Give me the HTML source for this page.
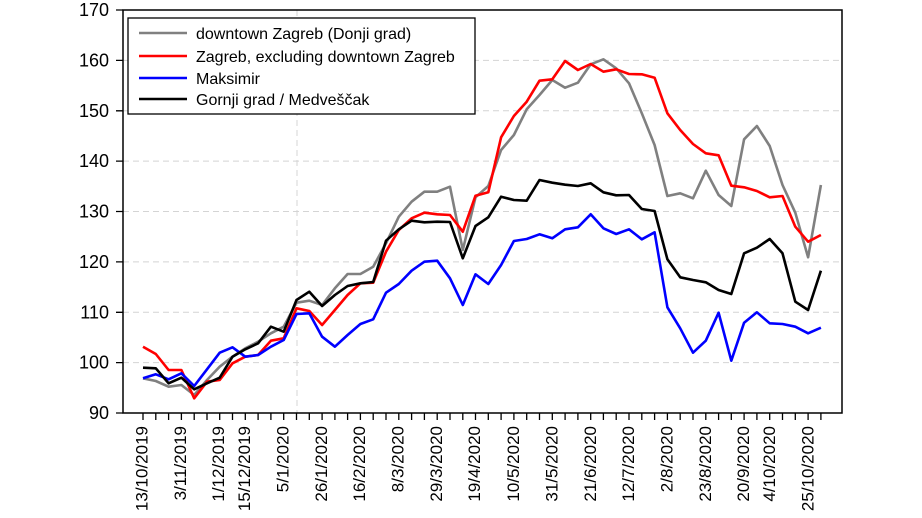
<!DOCTYPE html>
<html><head><meta charset="utf-8"><style>
html,body{margin:0;padding:0;background:#fff;}
svg{display:block;font-family:"Liberation Sans",Arial,sans-serif;}
</style></head><body>
<svg width="922" height="518" viewBox="0 0 922 518" xmlns="http://www.w3.org/2000/svg">
<g stroke="#d4d4d4" stroke-width="1" stroke-dasharray="6,4">
<line x1="123" y1="60.4" x2="842" y2="60.4"/>
<line x1="123" y1="110.8" x2="842" y2="110.8"/>
<line x1="123" y1="161.1" x2="842" y2="161.1"/>
<line x1="123" y1="211.5" x2="842" y2="211.5"/>
<line x1="123" y1="261.9" x2="842" y2="261.9"/>
<line x1="123" y1="312.3" x2="842" y2="312.3"/>
<line x1="123" y1="362.6" x2="842" y2="362.6"/>
<line x1="297" y1="10" x2="297" y2="413"/>
</g>
<g font-size="18" text-anchor="end" fill="#000">
<text x="109" y="16">170</text><text x="109" y="66.4">160</text><text x="109" y="116.8">150</text>
<text x="109" y="167.1">140</text><text x="109" y="217.5">130</text><text x="109" y="267.9">120</text>
<text x="109" y="318.3">110</text><text x="109" y="368.6">100</text><text x="109" y="419">90</text>
</g>
<path stroke="#000" stroke-width="1.3" fill="none" d="M143 413v7M155.8 413v7M168.6 413v7M181.4 413v7M194.2 413v7M207 413v7M219.7 413v7M232.5 413v7M245.3 413v7M258.1 413v7M270.9 413v7M283.7 413v7M296.5 413v7M309.3 413v7M322.1 413v7M334.9 413v7M347.6 413v7M360.4 413v7M373.2 413v7M386 413v7M398.8 413v7M411.6 413v7M424.4 413v7M437.2 413v7M450 413v7M462.8 413v7M475.5 413v7M488.3 413v7M501.1 413v7M513.9 413v7M526.7 413v7M539.5 413v7M552.3 413v7M565.1 413v7M577.9 413v7M590.7 413v7M603.4 413v7M616.2 413v7M629 413v7M641.8 413v7M654.6 413v7M667.4 413v7M680.2 413v7M693 413v7M705.8 413v7M718.6 413v7M731.3 413v7M744.1 413v7M756.9 413v7M769.7 413v7M782.5 413v7M795.3 413v7M808.1 413v7M820.9 413v7M116 10h7M116 60.4h7M116 110.8h7M116 161.1h7M116 211.5h7M116 261.9h7M116 312.3h7M116 362.6h7M116 413h7"/>
<g font-size="17" text-anchor="end" fill="#000">
<text transform="translate(147.7,426) rotate(-90)">13/10/2019</text>
<text transform="translate(186,426) rotate(-90)">3/11/2019</text>
<text transform="translate(224,426) rotate(-90)">1/12/2019</text>
<text transform="translate(250,426) rotate(-90)">15/12/2019</text>
<text transform="translate(288.7,426) rotate(-90)">5/1/2020</text>
<text transform="translate(327,426) rotate(-90)">26/1/2020</text>
<text transform="translate(365,426) rotate(-90)">16/2/2020</text>
<text transform="translate(403.7,426) rotate(-90)">8/3/2020</text>
<text transform="translate(442,426) rotate(-90)">29/3/2020</text>
<text transform="translate(480,426) rotate(-90)">19/4/2020</text>
<text transform="translate(519,426) rotate(-90)">10/5/2020</text>
<text transform="translate(557.7,426) rotate(-90)">31/5/2020</text>
<text transform="translate(596,426) rotate(-90)">21/6/2020</text>
<text transform="translate(634,426) rotate(-90)">12/7/2020</text>
<text transform="translate(672.7,426) rotate(-90)">2/8/2020</text>
<text transform="translate(711,426) rotate(-90)">23/8/2020</text>
<text transform="translate(749,426) rotate(-90)">20/9/2020</text>
<text transform="translate(775,426) rotate(-90)">4/10/2020</text>
<text transform="translate(813.7,426) rotate(-90)">25/10/2020</text>
</g>
<g fill="none" stroke-width="2.6" stroke-linejoin="round">
<polyline stroke="#808080" points="143,378.3 155.8,381 168.6,386.7 181.4,385 194.2,395 207,380 219.7,366.7 232.5,356.7 245.3,348.3 258.1,341.7 270.9,333.3 283.7,326.7 296.5,302.7 309.3,300.7 322.1,305 334.9,288.3 347.6,274 360.4,274 373.2,266.7 386,243.3 398.8,216.7 411.6,201.7 424.4,191.7 437.2,191.7 450,186.7 462.8,250 475.5,197.3 488.3,186 501.1,150 513.9,135 526.7,109.3 539.5,95 552.3,80 565.1,87.7 577.9,82.7 590.7,64.3 603.4,59.3 616.2,68.3 629,83.3 641.8,113.3 654.6,145 667.4,196 680.2,193.3 693,198.3 705.8,170.7 718.6,195 731.3,206 744.1,139.3 756.9,126 769.7,146 782.5,185 795.3,212.7 808.1,257.3 820.9,185"/>
<polyline stroke="#ff0000" points="143,346.7 155.8,354 168.6,370 181.4,370 194.2,398.3 207,381.7 219.7,380 232.5,363.3 245.3,356.7 258.1,355 270.9,340.7 283.7,338.3 296.5,308.3 309.3,311 322.1,325 334.9,310 347.6,295 360.4,283.3 373.2,282.7 386,251.7 398.8,230 411.6,218.3 424.4,212.7 437.2,214.3 450,215 462.8,231.7 475.5,195.7 488.3,192.3 501.1,137.3 513.9,116 526.7,101.7 539.5,80.7 552.3,79.3 565.1,61 577.9,70 590.7,64 603.4,71.7 616.2,69.3 629,74 641.8,74.3 654.6,77.7 667.4,113.3 680.2,130 693,144 705.8,153.3 718.6,155.3 731.3,185.7 744.1,187.3 756.9,191 769.7,197.3 782.5,196 795.3,226.7 808.1,241.7 820.9,235"/>
<polyline stroke="#0000ff" points="143,378.3 155.8,374.3 168.6,379.3 181.4,373.3 194.2,386 207,369.3 219.7,352.7 232.5,347.3 245.3,356.7 258.1,355 270.9,346.7 283.7,340 296.5,314 309.3,313.3 322.1,336.7 334.9,346.7 347.6,335 360.4,324 373.2,319.3 386,292.7 398.8,284 411.6,270.7 424.4,261.7 437.2,260.7 450,278.3 462.8,305 475.5,274.3 488.3,284 501.1,265 513.9,241 526.7,239 539.5,234.3 552.3,238.3 565.1,229.3 577.9,227.3 590.7,214.3 603.4,228.3 616.2,234 629,229.3 641.8,239.3 654.6,232.3 667.4,307.3 680.2,328.3 693,352.7 705.8,340.7 718.6,312.7 731.3,360.7 744.1,322.7 756.9,312.3 769.7,323.3 782.5,324 795.3,326.7 808.1,333.3 820.9,327.7"/>
<polyline stroke="#000000" points="143,367.7 155.8,368.3 168.6,383.3 181.4,377.7 194.2,389.3 207,383.3 219.7,377.7 232.5,356.7 245.3,349.3 258.1,343.3 270.9,326.7 283.7,331.7 296.5,300 309.3,291.7 322.1,306 334.9,295 347.6,286 360.4,283.3 373.2,282 386,240.7 398.8,229.3 411.6,220.7 424.4,222.3 437.2,221.7 450,222 462.8,258.3 475.5,226 488.3,217.3 501.1,196.7 513.9,200 526.7,200.7 539.5,180 552.3,182.7 565.1,184.7 577.9,186 590.7,183.3 603.4,192.3 616.2,195.3 629,195 641.8,209 654.6,211 667.4,259.3 680.2,277.3 693,280 705.8,282.3 718.6,290 731.3,294 744.1,253.3 756.9,247.7 769.7,239 782.5,253.3 795.3,301.7 808.1,310 820.9,270.7"/>
</g>
<rect x="123" y="10" width="719" height="403" fill="none" stroke="#000" stroke-width="1.5"/>
<rect x="128" y="18" width="347" height="96" fill="#fff" stroke="#000" stroke-width="1.3"/>
<g stroke-width="2.6">
<line x1="139" y1="33" x2="187" y2="33" stroke="#808080"/>
<line x1="139" y1="56" x2="187" y2="56" stroke="#ff0000"/>
<line x1="139" y1="78" x2="187" y2="78" stroke="#0000ff"/>
<line x1="139" y1="99" x2="187" y2="99" stroke="#000"/>
</g>
<g font-size="16" fill="#000">
<text x="196" y="39">downtown Zagreb (Donji grad)</text>
<text x="196" y="62">Zagreb, excluding downtown Zagreb</text>
<text x="196" y="84">Maksimir</text>
<text x="196" y="105">Gornji grad / Medveščak</text>
</g>
</svg>
</body></html>
